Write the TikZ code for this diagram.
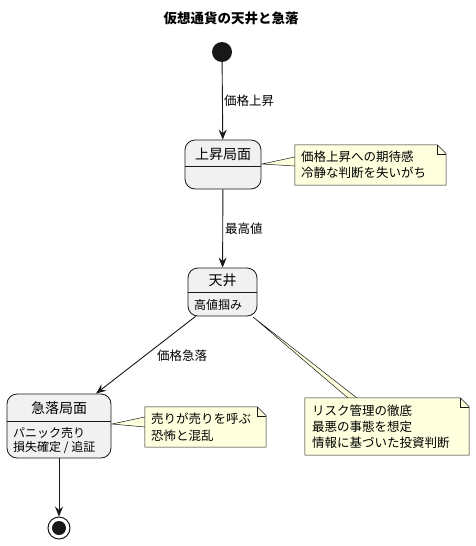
\documentclass[tikz,border=0pt]{standalone}
\usepackage{fontspec}
\setmainfont{Noto Sans CJK JP}
\usetikzlibrary{arrows.meta}
\definecolor{statefill}{HTML}{F1F1F1}
\definecolor{lineclr}{HTML}{181818}
\definecolor{notefill}{HTML}{FEFFDD}
\begin{document}
\begin{tikzpicture}[x=1pt,y=-1pt,
  every node/.style={font=\fontsize{12.5}{16}\selectfont, inner sep=0pt, text=black},
  statebox/.style={draw=lineclr, fill=statefill, rounded corners=10pt, line width=0.8pt},
  stitle/.style={font=\fontsize{14}{16}\selectfont},
  sbody/.style={anchor=west, align=left, font=\fontsize{12}{15}\selectfont},
  notebox/.style={draw=none, fill=none},
  noteline/.style={draw=lineclr, fill=notefill, line width=0.5pt},
  arr/.style={draw=lineclr, line width=0.9pt, -{Stealth[length=10pt,width=8pt,inset=3.5pt]}},
  lbl/.style={anchor=west},
  txt/.style={anchor=west, align=left}
]
\useasboundingbox (0,0) rectangle (475,546);
\fill[white] (0,0) rectangle (475,546);

% title
\node[font=\bfseries\fontsize{13.5}{16}\selectfont] (title) at (231,18) {仮想通貨の天井と急落};

% initial
\node[circle, fill=lineclr, minimum size=20pt] (init) at (222,52) {};

% state 1
\node[statebox, minimum width=76pt, minimum height=49pt] (s1) at (223,164.5) {};
\draw[lineclr, line width=0.8pt] (s1.west |- 0,166) -- (s1.east |- 0,166);
\node[stitle] (s1t) at (223,154) {上昇局面};

% state 2
\node[statebox, minimum width=69pt, minimum height=48pt] (s2) at (222.5,292) {};
\draw[lineclr, line width=0.8pt] (s2.west |- 0,292) -- (s2.east |- 0,292);
\node[stitle] (s2t) at (222.5,280) {天井};
\node[sbody] (s2b) at (194,304.5) {高値掴み};

% state 3
\node[statebox, minimum width=104pt, minimum height=64pt] (s3) at (59,426) {};
\draw[lineclr, line width=0.8pt] (s3.west |- 0,421) -- (s3.east |- 0,421);
\node[stitle] (s3t) at (59,408) {急落局面};
\node[sbody] (s3b1) at (13,432.5) {パニック売り};
\node[sbody] (s3b2) at (13,448) {損失確定 / 追証};

% final
\node[circle, draw=lineclr, line width=1pt, fill=white, minimum size=22pt] (fin) at (59,528) {};
\node[circle, fill=lineclr, minimum size=14pt] (fini) at (fin) {};

% arrows
\draw[arr] (init) -- (s1);
\node[lbl] (l1) at (224,100.5) {価格上昇};
\draw[arr] (s1) -- (s2);
\node[lbl] (l2) at (225,228.5) {最高値};
\draw[arr] ([xshift=-27pt]s2.south) -- ([xshift=37pt]s3.north);
\node[lbl] (l3) at (157,355.5) {価格急落};
\draw[arr] (s3) -- (fin);

% note 1
\coordinate (c1) at (262,164);
\node[notebox, minimum width=151pt, minimum height=40pt] (n1) at (370.5,165) {};
\draw[noteline] (n1.west |- 0,157) -- (c1) -- (n1.west |- 0,166);
\draw[noteline] (n1.north west) -- ([xshift=-9pt]n1.north east) -- ([yshift=-9pt]n1.north east) -- (n1.south east) -- (n1.south west) -- cycle;
\draw[lineclr, line width=0.5pt] ([xshift=-9pt]n1.north east) -- ([xshift=-9pt,yshift=-9pt]n1.north east) -- ([yshift=-9pt]n1.north east);
\node[txt] (n1a) at (301,157) {価格上昇への期待感};
\node[txt] (n1b) at (301,173) {冷静な判断を失いがち};

% note 2
\coordinate (c2) at (112,424);
\node[notebox, minimum width=121pt, minimum height=40pt] (n2) at (205.5,427) {};
\draw[noteline] (n2.west |- 0,417) -- (c2) -- (n2.west |- 0,427);
\draw[noteline] (n2.north west) -- ([xshift=-9pt]n2.north east) -- ([yshift=-9pt]n2.north east) -- (n2.south east) -- (n2.south west) -- cycle;
\draw[lineclr, line width=0.5pt] ([xshift=-9pt]n2.north east) -- ([xshift=-9pt,yshift=-9pt]n2.north east) -- ([yshift=-9pt]n2.north east);
\node[txt] (n2a) at (151,419) {売りが売りを呼ぶ};
\node[txt] (n2b) at (151,435.5) {恐怖と混乱};

% note 3
\coordinate (c3) at (253,317);
\node[notebox, minimum width=164pt, minimum height=57pt] (n3) at (387,426.5) {};
\draw[noteline] (348,398) -- (c3) -- (357,398);
\draw[noteline] (n3.north west) -- ([xshift=-9pt]n3.north east) -- ([yshift=-9pt]n3.north east) -- (n3.south east) -- (n3.south west) -- cycle;
\draw[lineclr, line width=0.5pt] ([xshift=-9pt]n3.north east) -- ([xshift=-9pt,yshift=-9pt]n3.north east) -- ([yshift=-9pt]n3.north east);
\node[txt] (n3a) at (312,411) {リスク管理の徹底};
\node[txt] (n3b) at (312,427) {最悪の事態を想定};
\node[txt] (n3c) at (312,443) {情報に基づいた投資判断};
\end{tikzpicture}
\end{document}
